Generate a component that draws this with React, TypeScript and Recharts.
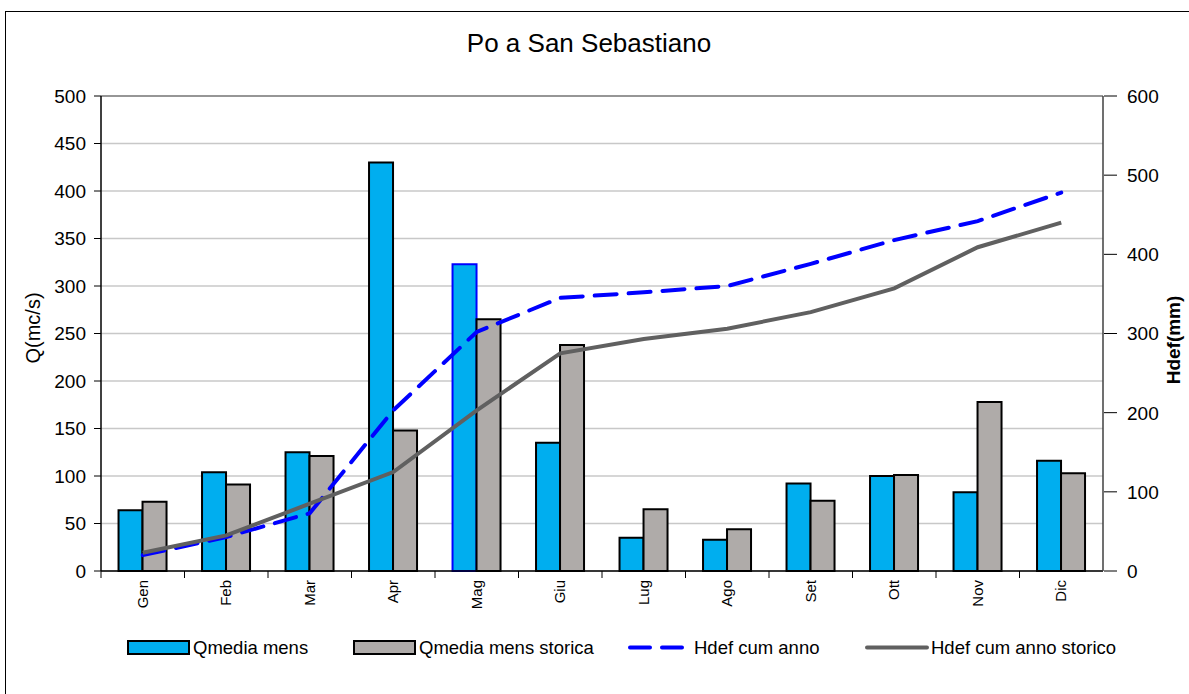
import { ComposedChart, Bar, Line, Cell, XAxis, YAxis, CartesianGrid, ReferenceLine } from 'recharts'

const months = ['Gen', 'Feb', 'Mar', 'Apr', 'Mag', 'Giu', 'Lug', 'Ago', 'Set', 'Ott', 'Nov', 'Dic']
const qMedia = [64, 104, 125, 430, 323, 135, 35, 33, 92, 100, 83, 116]
const qStorica = [73, 91, 121, 148, 265, 238, 65, 44, 74, 101, 178, 103]
const hdefAnno = [20, 43, 73, 203, 302, 345, 352, 360, 388, 418, 442, 478]
const hdefStorico = [23, 45, 85, 125, 203, 275, 293, 306, 327, 357, 409, 440]
const leftTicks = [0, 50, 100, 150, 200, 250, 300, 350, 400, 450, 500]
const rightTicks = [0, 100, 200, 300, 400, 500, 600]

const data = months.map((m, i) => ({
  month: m,
  q: qMedia[i],
  qs: qStorica[i],
  h: hdefAnno[i],
  hs: hdefStorico[i],
}))

const FONT = '"Liberation Sans", Arial, sans-serif'
const BLUE = '#00AEEF'
const GRAY = '#AFABA9'
const PLOT_LEFT = 101
const PLOT_RIGHT = 1103
const BAND = (PLOT_RIGHT - PLOT_LEFT) / months.length

function MonthTick({ x, y, payload }: any) {
  return (
    <g>
      <line x1={x - BAND / 2} x2={x - BAND / 2} y1={y - 8} y2={y - 1} stroke="#000" />
      <text
        x={0}
        y={0}
        transform={`translate(${x + 5},${y + 1}) rotate(-90)`}
        textAnchor="end"
        fontSize={15}
        fontFamily={FONT}
        fill="#000"
      >
        {payload.value}
      </text>
    </g>
  )
}

function RightTick({ x, y, payload }: any) {
  return (
    <g>
      <line x1={x - 16} x2={x - 3} y1={y} y2={y} stroke="#000" />
      <text x={x + 7} y={y} dy="0.36em" textAnchor="start" fontSize={19} fontFamily={FONT} fill="#000">
        {payload.value}
      </text>
    </g>
  )
}

function LegendItem({ left, label, kind }: { left: number; label: string; kind: string }) {
  let mark
  if (kind === 'blue' || kind === 'gray') {
    mark = (
      <rect x={1} y={1} width={61} height={13} fill={kind === 'blue' ? BLUE : GRAY} stroke="#000" strokeWidth={2} />
    )
  } else if (kind === 'dash') {
    mark = <line x1={2} x2={62} y1={7.5} y2={7.5} stroke="#0000FF" strokeWidth={4} strokeDasharray="20 12" strokeLinecap="round" />
  } else {
    mark = <line x1={2} x2={62} y1={7.5} y2={7.5} stroke="#606060" strokeWidth={4} strokeLinecap="round" />
  }
  return (
    <div style={{ position: 'absolute', left, top: 637, display: 'flex', alignItems: 'center' }}>
      <svg width={64} height={16}>{mark}</svg>
      <span style={{ fontFamily: FONT, fontSize: 18.5, marginLeft: 2, color: '#000', whiteSpace: 'nowrap' }}>{label}</span>
    </div>
  )
}

export default function App() {
  return (
    <div style={{ position: 'absolute', left: 0, top: 0, width: 1189, height: 694, background: '#fff', overflow: 'hidden' }}>
      <div
        style={{
          position: 'absolute',
          left: 5,
          top: 11,
          width: 1220,
          height: 700,
          border: '1.5px solid #000',
          boxSizing: 'border-box',
        }}
      />
      <div style={{ position: 'absolute', left: 0, top: 0 }}>
        <ComposedChart
          width={1189}
          height={694}
          data={data}
          margin={{ top: 96, right: 0, bottom: 83, left: 0 }}
          barCategoryGap="21%"
          barGap={0}
        >
          <CartesianGrid vertical={false} stroke="#C8C8C8" strokeWidth={1.5} yAxisId="left" />
          <XAxis
            dataKey="month"
            xAxisId={0}
            height={40}
            tick={<MonthTick />}
            tickLine={false}
            axisLine={{ stroke: '#000', strokeWidth: 1.5 }}
            interval={0}
          />
          <YAxis
            yAxisId="left"
            orientation="left"
            width={PLOT_LEFT}
            domain={[0, 500]}
            ticks={leftTicks}
            tickSize={7}
            tickMargin={8}
            axisLine={{ stroke: '#000', strokeWidth: 1.5 }}
            tickLine={{ stroke: '#000' }}
            tick={{ fontSize: 19, fontFamily: FONT, fill: '#000' }}
          />
          <YAxis
            yAxisId="right"
            orientation="right"
            width={1189 - PLOT_RIGHT}
            domain={[0, 600]}
            ticks={rightTicks}
            tickSize={7}
            tickMargin={10}
            axisLine={{ stroke: '#404040', strokeWidth: 1.5 }}
            tickLine={false}
            tick={<RightTick />}
          />
          <ReferenceLine yAxisId="left" y={500} stroke="#808080" strokeWidth={1.5} />
          <Bar yAxisId="left" dataKey="q" name="Qmedia mens" fill={BLUE} stroke="#000" strokeWidth={2} isAnimationActive={false}>
            {data.map((_, i) => (
              <Cell key={i} stroke={months[i] === 'Mag' ? '#0000FF' : '#000'} />
            ))}
          </Bar>
          <Bar yAxisId="left" dataKey="qs" name="Qmedia mens storica" fill={GRAY} stroke="#000" strokeWidth={2} isAnimationActive={false} />
          <Line
            yAxisId="right"
            type="linear"
            dataKey="h"
            name="Hdef cum anno"
            stroke="#0000FF"
            strokeWidth={4}
            strokeDasharray="22 12"
            strokeLinecap="round"
            dot={false}
            isAnimationActive={false}
          />
          <Line
            yAxisId="right"
            type="linear"
            dataKey="hs"
            name="Hdef cum anno storico"
            stroke="#606060"
            strokeWidth={4}
            dot={false}
            isAnimationActive={false}
          />
        </ComposedChart>
      </div>
      <svg width={1189} height={694} style={{ position: 'absolute', left: 0, top: 0, pointerEvents: 'none' }}>
        <text x={589} y={52} textAnchor="middle" fontFamily={FONT} fontSize={26} fill="#000">
          Po a San Sebastiano
        </text>
        <text
          x={0}
          y={0}
          transform="translate(40,328) rotate(-90)"
          textAnchor="middle"
          fontFamily={FONT}
          fontSize={20}
          fill="#000"
        >
          Q(mc/s)
        </text>
        <text
          x={0}
          y={0}
          transform="translate(1180,340) rotate(-90)"
          textAnchor="middle"
          fontFamily={FONT}
          fontSize={19}
          fontWeight="bold"
          fill="#000"
        >
          Hdef(mm)
        </text>
      </svg>
      <LegendItem left={127} label="Qmedia mens" kind="blue" />
      <LegendItem left={353} label="Qmedia mens storica" kind="gray" />
      <LegendItem left={628} label="Hdef cum anno" kind="dash" />
      <LegendItem left={865} label="Hdef cum anno storico" kind="gray-line" />
    </div>
  )
}
